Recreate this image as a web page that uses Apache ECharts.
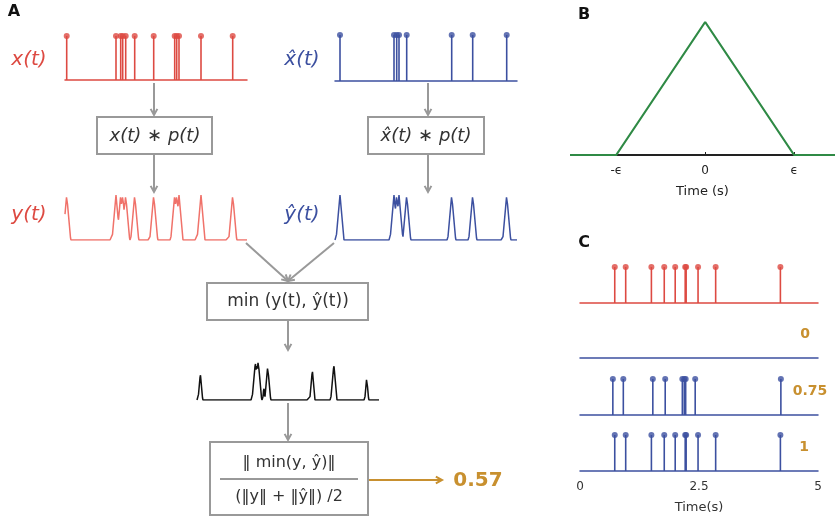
<!DOCTYPE html>
<html><head><meta charset="utf-8">
<script src="https://cdn.jsdelivr.net/npm/echarts@6/dist/echarts.min.js"></script>
<style>html,body{margin:0;padding:0;background:#fff}#c{width:835px;height:519px}</style>
</head><body><div id="c"></div>
<script>
// panel A spike trains (positions along a 0..182 time axis)
const spikesX = [1.7, 51, 55.7, 57.7, 60.7, 69.7, 88.7, 109.7, 111.7, 114, 136, 167.7];
const spikesXhat = [5, 59, 61.7, 64, 71.7, 116.7, 137.7, 171.7];
const kernelHalf = 4;
// panel B kernel
const kernelX = [-1.52, -1, 0, 1, 1.46];
const kernelY = [0, 0, 1, 0, 0];
// panel C spike trains (s)
const spikesRef = [0.73, 0.96, 1.5, 1.77, 2.0, 2.21, 2.23, 2.48, 2.85, 4.21];
const spikesEmpty = [];
const spikesPart = [0.69, 0.91, 1.53, 1.79, 2.15, 2.19, 2.22, 2.42, 4.22];
const spikesSame = [0.73, 0.96, 1.5, 1.77, 2.0, 2.21, 2.23, 2.48, 2.85, 4.21];
const scoresC = ['0', '0.75', '1'];
const resultA = '0.57';

const RED = '#dd4a42', RED2 = '#f0726a', BLUE = '#3c50a0', GREEN = '#2f8a45', GOLD = '#c8902f', GRAY = '#999';

function conv(sp, x) { let m = 0; sp.forEach(s => { m = Math.max(m, 1 - Math.abs(x - s) / kernelHalf); }); return m; }
const grid = [];
for (let x = 0; x <= 182; x += 0.5) grid.push(x);
const yT = grid.map(x => [x, conv(spikesX, x)]);
const yHat = grid.map(x => [x, conv(spikesXhat, x)]);
const yMin = grid.map((x, i) => [x, Math.min(yT[i][1], yHat[i][1])]);

const grids = [
  { left: 65, top: 36, width: 182, height: 44 },
  { left: 335, top: 35, width: 182, height: 46 },
  { left: 65, top: 195, width: 182, height: 45 },
  { left: 335, top: 195, width: 182, height: 45 },
  { left: 197, top: 355, width: 182, height: 45 },
  { left: 570, top: 22, width: 265, height: 133 },
  { left: 580, top: 267, width: 238, height: 36 },
  { left: 580, top: 322, width: 238, height: 36 },
  { left: 580, top: 379, width: 238, height: 36 },
  { left: 580, top: 435, width: 238, height: 36 }
];
const xAxes = [], yAxes = [], series = [];
function plainX(i, min, max, color) {
  xAxes.push({ gridIndex: i, type: 'value', min, max, axisLine: { show: true, onZero: false, lineStyle: { color, width: 1.5 } },
    axisTick: { show: false }, axisLabel: { show: false }, splitLine: { show: false } });
}
function plainY(i, max) {
  yAxes.push({ gridIndex: i, type: 'value', min: 0, max: max || 1, show: false, splitLine: { show: false } });
}
function stems(i, sp, color) {
  series.push({ type: 'bar', xAxisIndex: i, yAxisIndex: i, barWidth: 1.6, data: sp.map(s => [s, 1]), itemStyle: { color }, silent: true });
  series.push({ type: 'scatter', xAxisIndex: i, yAxisIndex: i, symbolSize: 6, data: sp.map(s => [s, 1]), itemStyle: { color }, silent: true });
}
function curve(i, data, color, w) {
  series.push({ type: 'line', xAxisIndex: i, yAxisIndex: i, data, showSymbol: false, lineStyle: { color, width: w || 1.5 }, silent: true });
}
plainX(0, 0, 182, RED); plainY(0); stems(0, spikesX, RED);
plainX(1, 0, 182, BLUE); plainY(1); stems(1, spikesXhat, BLUE);
xAxes.push({ gridIndex: 2, type: 'value', min: 0, max: 182, show: false }); plainY(2); curve(2, yT, RED2);
xAxes.push({ gridIndex: 3, type: 'value', min: 0, max: 182, show: false }); plainY(3); curve(3, yHat, BLUE);
xAxes.push({ gridIndex: 4, type: 'value', min: 0, max: 182, show: false }); plainY(4); curve(4, yMin, '#111');
// panel B
xAxes.push({ gridIndex: 5, type: 'value', min: -1.52, max: 1.46, axisLine: { show: false },
  axisTick: { show: true, customValues: [0, 1], length: 3, inside: true, lineStyle: { color: '#222' } },
  axisLabel: { customValues: [-1, 0, 1], formatter: v => v < 0 ? '-ϵ' : v > 0 ? 'ϵ' : '0', color: '#222', fontSize: 12, margin: 10, fontFamily: 'DejaVu Sans' },
  splitLine: { show: false }, name: 'Time (s)', nameLocation: 'middle', nameGap: 30, nameTextStyle: { color: '#222', fontSize: 13, fontFamily: 'DejaVu Sans' } });
plainY(5);
series.push({ type: 'line', xAxisIndex: 5, yAxisIndex: 5, data: [[-1, 0], [1, 0]], showSymbol: false, lineStyle: { color: '#222', width: 2 }, z: 3 });
curve(5, kernelX.map((x, i) => [x, kernelY[i]]), GREEN, 2.2);
// panel C
const rowsC = [[spikesRef, RED], [spikesEmpty, BLUE], [spikesPart, BLUE], [spikesSame, BLUE]];
rowsC.forEach((r, k) => {
  const i = 6 + k;
  if (k < 3) plainX(i, 0, 5, r[1]);
  else xAxes.push({ gridIndex: i, type: 'value', min: 0, max: 5, interval: 2.5,
    axisLine: { show: true, onZero: false, lineStyle: { color: BLUE, width: 1.5 } }, axisTick: { show: false },
    axisLabel: { color: '#333', fontSize: 12, margin: 10, fontFamily: 'DejaVu Sans' }, splitLine: { show: false },
    name: 'Time(s)', nameLocation: 'middle', nameGap: 30, nameTextStyle: { color: '#333', fontSize: 13, fontFamily: 'DejaVu Sans' } });
  plainY(i);
  stems(i, r[0], r[1]);
});

function box(x, y, w, h) { return { type: 'rect', shape: { x, y, width: w, height: h }, style: { fill: '#fff', stroke: GRAY, lineWidth: 2 } }; }
function arrow(x1, y1, x2, y2, color) {
  const a = Math.atan2(y2 - y1, x2 - x1), L = 7;
  return [{ type: 'line', shape: { x1, y1, x2, y2 }, style: { stroke: color || GRAY, lineWidth: 2 } },
    { type: 'polyline', shape: { points: [[x2 - L * Math.cos(a - 0.5), y2 - L * Math.sin(a - 0.5)], [x2, y2], [x2 - L * Math.cos(a + 0.5), y2 - L * Math.sin(a + 0.5)]] }, style: { stroke: color || GRAY, fill: null, lineWidth: 2 } }];
}
function txt(x, y, s, o) { return { type: 'text', x, y, style: Object.assign({ text: s, fontFamily: 'DejaVu Sans', fontSize: 18, fill: '#333', align: 'center', verticalAlign: 'middle' }, o || {}) }; }
const mathI = { fontStyle: 'italic' };
const g = [].concat(
  txt(14, 12, 'A', { fontWeight: 'bold', fontSize: 16, fill: '#111' }),
  txt(584, 15, 'B', { fontWeight: 'bold', fontSize: 16, fill: '#111' }),
  txt(584, 243, 'C', { fontWeight: 'bold', fontSize: 16, fill: '#111' }),
  txt(29, 60, 'x(t)', Object.assign({ fill: RED, fontSize: 20 }, mathI)),
  txt(302, 60, 'x̂(t)', Object.assign({ fill: BLUE, fontSize: 20 }, mathI)),
  txt(29, 215, 'y(t)', Object.assign({ fill: RED, fontSize: 20 }, mathI)),
  txt(302, 215, 'ŷ(t)', Object.assign({ fill: BLUE, fontSize: 20 }, mathI)),
  arrow(154, 83, 154, 115), arrow(154, 155, 154, 192),
  arrow(428, 83, 428, 115), arrow(428, 155, 428, 192),
  arrow(246, 243, 288, 281), arrow(334, 243, 288, 281),
  arrow(288, 321, 288, 350), arrow(288, 403, 288, 440),
  box(97, 117, 115, 37), box(368, 117, 116, 37), box(207, 283, 161, 37), box(210, 442, 158, 73),
  txt(155, 136, 'x(t) ∗ p(t)', mathI), txt(426, 136, 'x̂(t) ∗ p(t)', mathI),
  txt(288, 302, 'min (y(t), ŷ(t))', { fontSize: 17 }),
  txt(289, 463, '‖ min(y, ŷ)‖', { fontSize: 16 }),
  [{ type: 'line', shape: { x1: 220, y1: 479, x2: 358, y2: 479 }, style: { stroke: '#333', lineWidth: 1 } }],
  txt(289, 497, '(‖y‖ + ‖ŷ‖) /2', { fontSize: 16 }),
  arrow(369, 480, 442, 480, GOLD),
  txt(478, 481, resultA, { fill: GOLD, fontWeight: 'bold', fontSize: 20 }),
  txt(805, 334, scoresC[0], { fill: GOLD, fontWeight: 'bold', fontSize: 14 }),
  txt(810, 391, scoresC[1], { fill: GOLD, fontWeight: 'bold', fontSize: 14 }),
  txt(804, 447, scoresC[2], { fill: GOLD, fontWeight: 'bold', fontSize: 14 })
);

const chart = echarts.init(document.getElementById('c'));
chart.setOption({ animation: false, grid: grids, xAxis: xAxes, yAxis: yAxes, series, graphic: g });
</script></body></html>
